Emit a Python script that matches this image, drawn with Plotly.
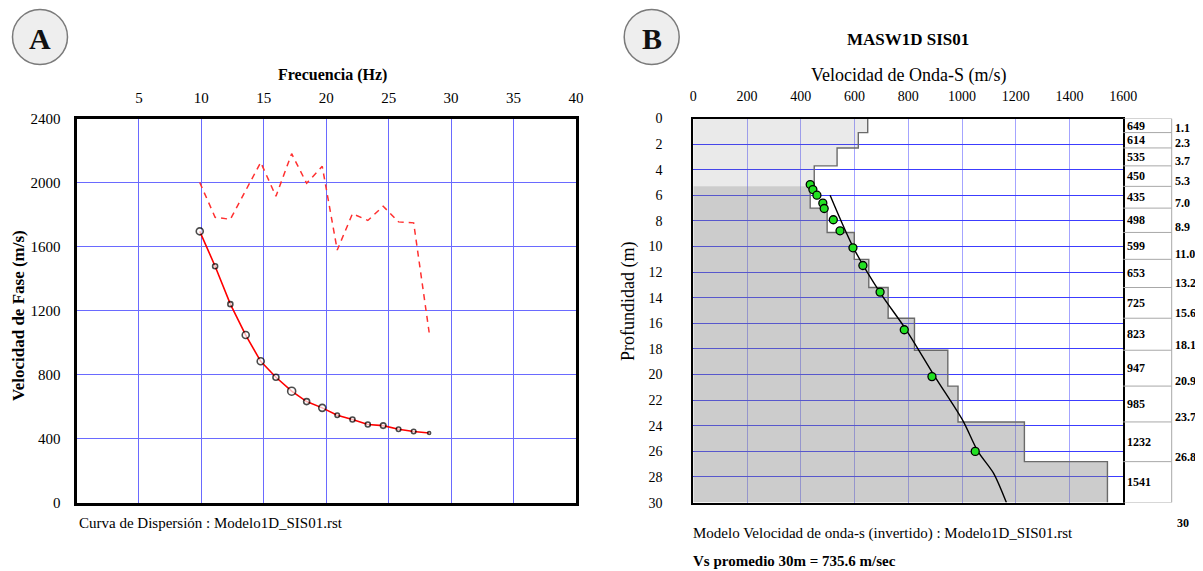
import plotly.graph_objects as go

W, H = 1203, 571
# the page body keeps the browser's default 8px margin, so the layout is
# laid out in window pixels and shifted back by that amount
OFF = 8
FONT = "Liberation Serif"

# ================= DATA =================
# Panel A - dispersion curve
freq_hz = [9.87, 11.1, 12.32, 13.55, 14.75, 15.97, 17.23, 18.43, 19.68, 20.88,
           22.1, 23.33, 24.56, 25.79, 27.0, 28.24]
vphase_fund = [1695, 1477, 1240, 1047, 883, 783, 696, 631, 592, 546,
               519, 488, 481, 458, 444, 435]
vphase_higher = [2000, 1783, 1770, 1955, 2126, 1914, 2180, 1995, 2101, 1578,
                 1805, 1763, 1852, 1754, 1748, 1063]

# Panel B - inverted Vs model
layer_depths = [0, 1.1, 2.3, 3.7, 5.3, 7.0, 8.9, 11.0, 13.2, 15.6, 18.1, 20.9, 23.7, 26.8, 30]
layer_vs = [649, 614, 535, 450, 435, 498, 599, 653, 725, 823, 947, 985, 1232, 1541]

dot_depth = [5.16, 5.55, 5.99, 6.61, 7.03, 7.91, 8.77, 10.1, 11.48, 13.56, 16.5, 20.16, 26.0]
dot_vs = [435, 445, 460, 482, 487, 521, 546, 594, 631, 695, 785, 888, 1049]

curve_depth = [6.0, 10.1, 13.6, 16.5, 20.2, 23.6, 26.0, 27.7, 30.0]
curve_vs = [509, 596, 695, 792, 900, 1003, 1059, 1117, 1165]

# marker diameters for the dispersion picks (style only)
pick_sizes = [7, 5, 5, 7, 7, 6, 8, 6, 7, 4.5, 5, 5, 5.5, 4.5, 4.5, 3]


def px(x):
    return (x - OFF) / W


def py(y):
    return 1 - (y - OFF) / H


fig = go.Figure()

# ---------- panel A ----------
fig.add_trace(go.Scatter(x=freq_hz, y=vphase_higher, mode="lines",
                         line=dict(color="#ff3030", width=1.5, dash="6px,5px"),
                         xaxis="x", yaxis="y", hoverinfo="skip"))
fig.add_trace(go.Scatter(x=freq_hz, y=vphase_fund, mode="lines+markers",
                         line=dict(color="#ff0000", width=1.6),
                         marker=dict(size=pick_sizes, color="white",
                                     line=dict(color="black", width=1.6)),
                         xaxis="x", yaxis="y"))

# ---------- panel B ----------
step_x, step_y = [], []
for i, v in enumerate(layer_vs):
    step_x += [v, v]
    step_y += [layer_depths[i], layer_depths[i + 1]]

n_top = 4  # layers above 5.3 m (light shading)
fig.add_trace(go.Scatter(x=[0] + step_x[:2 * n_top] + [0],
                         y=[0] + step_y[:2 * n_top] + [layer_depths[n_top]],
                         fill="toself", fillcolor="rgba(125,125,125,0.16)",
                         mode="lines", line=dict(width=0),
                         xaxis="x2", yaxis="y2", hoverinfo="skip"))
fig.add_trace(go.Scatter(x=[0] + step_x[2 * n_top:] + [0],
                         y=[layer_depths[n_top]] + step_y[2 * n_top:] + [layer_depths[-1]],
                         fill="toself", fillcolor="rgba(128,128,128,0.40)",
                         mode="lines", line=dict(width=0),
                         xaxis="x2", yaxis="y2", hoverinfo="skip"))
fig.add_trace(go.Scatter(x=step_x, y=step_y, mode="lines",
                         line=dict(color="#6a6a6a", width=1.4),
                         xaxis="x2", yaxis="y2"))
fig.add_trace(go.Scatter(x=curve_vs, y=curve_depth, mode="lines",
                         line=dict(color="black", width=1.4, shape="spline", smoothing=0.8),
                         xaxis="x2", yaxis="y2"))
fig.add_trace(go.Scatter(x=dot_vs, y=dot_depth, mode="markers",
                         marker=dict(size=8, color="#22e022",
                                     line=dict(color="black", width=1.3)),
                         xaxis="x2", yaxis="y2"))

ydom = [py(502.6), py(118.5)]
tick_font_a = dict(family=FONT, size=15, color="black")
tick_font_b = dict(family=FONT, size=14, color="black")

fig.update_layout(
    width=W, height=H, showlegend=False, autosize=False,
    paper_bgcolor="white", plot_bgcolor="white",
    margin=dict(l=0, r=0, t=0, b=0, pad=0),
    font=dict(family=FONT, color="black"),
    xaxis=dict(domain=[px(76.5), px(576)], range=[0, 40], side="top",
               anchor="y", showgrid=True, gridcolor="#6a6aff", gridwidth=1.2,
               zeroline=False, showline=True, mirror=True, linecolor="black", linewidth=3,
               ticks="", ticklabelstandoff=7, tickfont=tick_font_a, automargin=False,
               tickvals=[5, 10, 15, 20, 25, 30, 35, 40]),
    yaxis=dict(domain=ydom, range=[0, 2400], dtick=400, anchor="x",
               showgrid=True, gridcolor="#6a6aff", gridwidth=1.2,
               zeroline=False, showline=True, mirror=True, linecolor="black", linewidth=3,
               ticks="", ticklabelstandoff=10, tickfont=tick_font_a, automargin=False),
    xaxis2=dict(domain=[px(693.3), px(1123.3)], range=[0, 1600], dtick=200, tick0=0,
                side="top", anchor="y2", showgrid=True, gridcolor="rgba(90,90,255,0.55)",
                gridwidth=1, zeroline=False, showline=True, mirror=True,
                linecolor="black", linewidth=2, ticks="", ticklabelstandoff=10,
                tickfont=tick_font_b, automargin=False),
    yaxis2=dict(domain=ydom, range=[30, 0], dtick=2, tick0=0, anchor="x2",
                showgrid=True, gridcolor="#3c3cff", gridwidth=1, zeroline=False,
                showline=True, mirror=True, linecolor="black", linewidth=2,
                ticks="", ticklabelstandoff=26, tickfont=tick_font_b, automargin=False),
)

shapes = []
annotations = []

# circled panel letters
for letter, cx in (("A", 40), ("B", 651.7)):
    shapes.append(dict(type="circle", xref="paper", yref="paper",
                       x0=px(cx - 27.5), x1=px(cx + 27.5), y0=py(64.5), y1=py(9.5),
                       fillcolor="#eeeeee", line=dict(color="#7a7a7a", width=1.5)))
    annotations.append(dict(text="<b>%s</b>" % letter, x=px(cx), y=py(38),
                            xref="paper", yref="paper", xanchor="center", yanchor="middle",
                            showarrow=False,
                            font=dict(family=FONT, size=30, color="#111111")))

# right-hand layer table for panel B
tab_l, tab_r = px(1123.3), px(1171.7)
for d in layer_depths:
    shapes.append(dict(type="line", xref="paper", yref="y2", x0=tab_l, x1=tab_r,
                       y0=d, y1=d, line=dict(color="#a8a8a8", width=1)))
shapes.append(dict(type="line", xref="paper", yref="y2", x0=tab_r, x1=tab_r,
                   y0=layer_depths[0], y1=layer_depths[-1],
                   line=dict(color="#a8a8a8", width=1)))

for i, v in enumerate(layer_vs):
    mid = (layer_depths[i] + layer_depths[i + 1]) / 2
    annotations.append(dict(text="<b>%d</b>" % v, x=px(1125), y=mid, xref="paper", yref="y2",
                            xanchor="left", yanchor="middle", showarrow=False,
                            font=dict(family=FONT, size=12, color="black")))
for d in layer_depths[1:]:
    last = d == layer_depths[-1]
    label = "%d" % d if last else "%.1f" % d
    annotations.append(dict(text="<b>%s</b>" % label, x=px(1175 if last else 1173), y=d,
                            xref="paper", yref="y2", xanchor="left",
                            yanchor="top" if last else "middle",
                            yshift=-11 if last else 5, showarrow=False,
                            font=dict(family=FONT, size=12, color="black")))

# titles and captions
texts = [
    ("<b>Frecuencia (Hz)</b>", 332, 75, "center", 16, 0),
    ("<b>Velocidad de Fase (m/s)</b>", 18, 316, "center", 17, -90),
    ("Curva de Dispersión : Modelo1D_SIS01.rst", 76.5, 523, "left", 15, 0),
    ("<b>MASW1D SIS01</b>", 908, 39, "center", 17, 0),
    ("Velocidad de Onda-S (m/s)", 908, 75, "center", 18, 0),
    ("Profundidad (m)", 628, 302, "center", 18, -90),
    ("Modelo Velocidad de onda-s (invertido) : Modelo1D_SIS01.rst", 691, 533, "left", 15, 0),
    ("<b>Vs promedio 30m = 735.6 m/sec</b>", 691, 561, "left", 15, 0),
]
for txt, x, y, anchor, size, angle in texts:
    annotations.append(dict(text=txt, x=px(x), y=py(y), xref="paper", yref="paper",
                            xanchor=anchor, yanchor="middle", textangle=angle,
                            showarrow=False, font=dict(family=FONT, size=size, color="black")))

fig.update_layout(shapes=shapes, annotations=annotations)
fig.write_html("out.html")
